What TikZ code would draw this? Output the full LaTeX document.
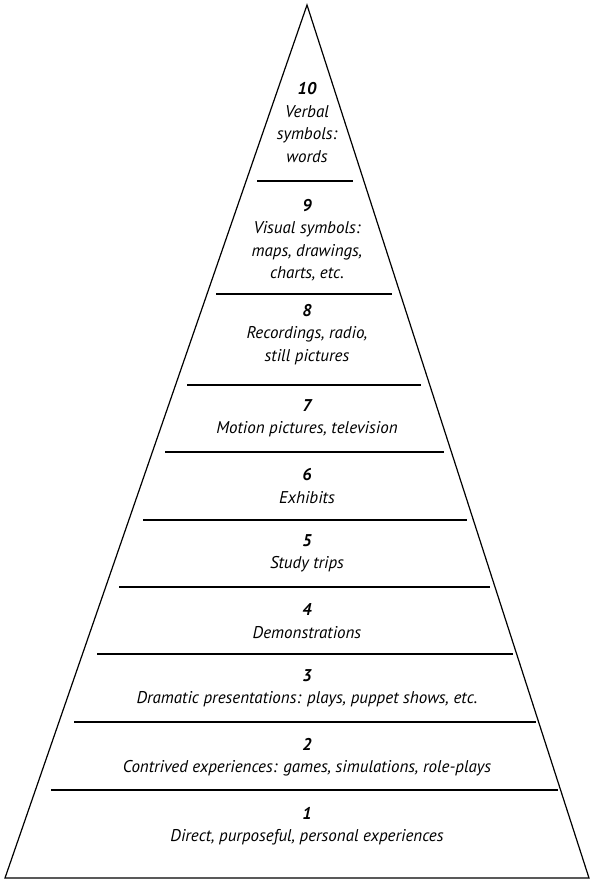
\documentclass[tikz,border=0pt]{standalone}
\usepackage{fontspec}
\setmainfont{PT Sans}
\usetikzlibrary{calc}

\tikzset{
  level/.style={align=center,font=\fontsize{17}{22.5}\selectfont\itshape,inner sep=0pt}
}

\begin{document}
\begin{tikzpicture}[x=1pt,y=-1pt]
\useasboundingbox (0,0) rectangle (589,888);
\coordinate[] (T) at (307,5);
\coordinate[] (L) at (5,878);
\coordinate[] (R) at (589,878);
\draw [line width=1.2pt,line join=miter] (L) -- (T) -- (R) -- cycle;
\foreach \y/\a/\b in {181/257/353,294/216/392,385/187/421,452/165/444,520/143/467,
                     587/119/490,654/97/513,722/74/536,790/51/558}
	\draw [line width=1.3pt] (\a,\y) -- (\b,\y);
\node[level] (l10) at (307,122.5) {{\bfseries 10}\\Verbal\\symbols:\\words};
\node[level] (l9) at (307,240) {{\bfseries 9}\\Visual symbols:\\maps, drawings,\\charts, etc.};
\node[level] (l8) at (307,334.5) {{\bfseries 8}\\Recordings, radio,\\still pictures};
\node[level] (l7) at (307,418) {{\bfseries 7}\\Motion pictures, television};
\node[level] (l6) at (307,486) {{\bfseries 6}\\Exhibits};
\node[level] (l5) at (307,553.5) {{\bfseries 5}\\Study trips};
\node[level] (l4) at (307,621) {{\bfseries 4}\\Demonstrations};
\node[level] (l3) at (307,688.5) {{\bfseries 3}\\Dramatic presentations: plays, puppet shows, etc.};
\node[level] (l2) at (307,757) {{\bfseries 2}\\Contrived experiences: games, simulations, role-plays};
\node[level] (l1) at (307,826) {{\bfseries 1}\\Direct, purposeful, personal experiences};
\end{tikzpicture}
\end{document}
